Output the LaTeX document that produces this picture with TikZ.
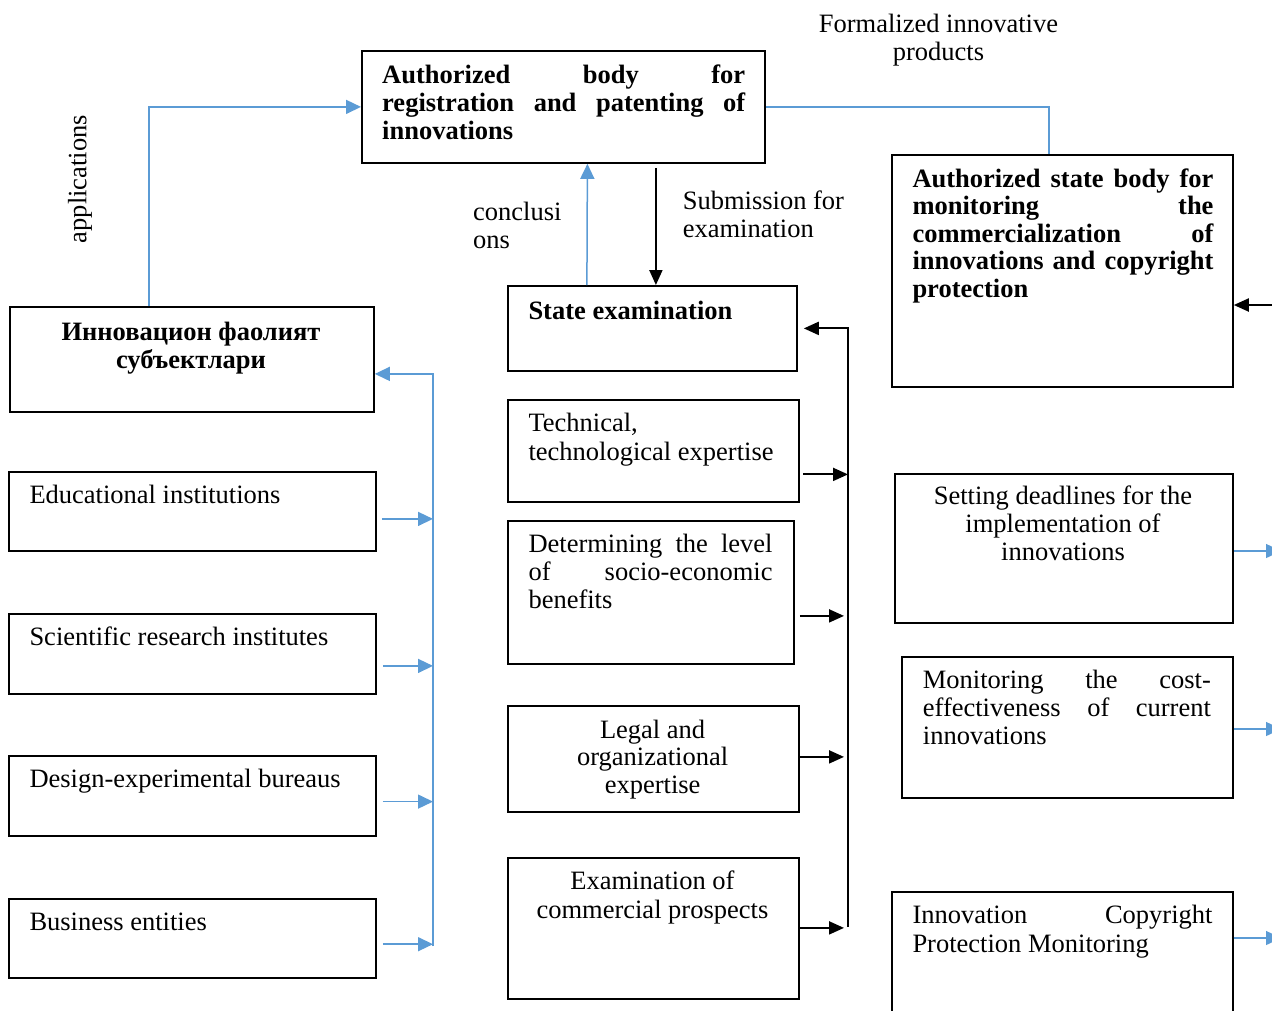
\documentclass[tikz,border=0pt]{standalone}
\usepackage{fontspec}
\setmainfont{Liberation Serif}
\usetikzlibrary{arrows.meta}
\definecolor{lblue}{RGB}{91,155,213}
\newcommand{\lnJ}[1]{\hbox to\hsize{\strut#1}}
\newcommand{\lnL}[1]{\hbox to\hsize{\strut#1\hfil}}
\newcommand{\lnC}[1]{\hbox to\hsize{\hfil\strut#1\hfil}}
\newcommand{\tbox}[2]{\vbox{\hsize=#1pt #2}}
\newcommand{\fsz}[1]{\fontsize{26.5}{#1}\selectfont}
\begin{document}
\begin{tikzpicture}[x=1pt,y=-1pt,
  box/.style={draw, line width=1.8pt, inner sep=0pt, anchor=north west},
  txt/.style={inner sep=0pt, anchor=north west},
  ctxt/.style={inner sep=0pt, anchor=north},
  blk/.style={line width=2pt, -{Triangle[length=15pt,width=13pt]}},
  blu/.style={lblue, line width=1.5pt, -{Triangle[length=15pt,width=14pt]}},
  bluline/.style={lblue, line width=1.5pt}]
\useasboundingbox (0,0) rectangle (1272,1010);
\clip (0,0) rectangle (1272,1010);

% boxes
\node[box, minimum width=403pt, minimum height=112pt] (top) at (361,50) {};
\node[box, minimum width=341pt, minimum height=232pt] (rtop) at (891,154) {};
\node[box, minimum width=364pt, minimum height=105pt] (inn) at (9,306) {};
\node[box, minimum width=289pt, minimum height=85pt] (sexam) at (507,285) {};
\node[box, minimum width=291pt, minimum height=102pt] (tech) at (507,399) {};
\node[box, minimum width=286pt, minimum height=143pt] (det) at (507,520) {};
\node[box, minimum width=291pt, minimum height=106pt] (legal) at (507,705) {};
\node[box, minimum width=291pt, minimum height=141pt] (comm) at (507,857) {};
\node[box, minimum width=367pt, minimum height=79pt] (edu) at (8,471) {};
\node[box, minimum width=367pt, minimum height=80pt] (sci) at (8,613) {};
\node[box, minimum width=367pt, minimum height=80pt] (des) at (8,755) {};
\node[box, minimum width=367pt, minimum height=79pt] (biz) at (8,898) {};
\node[box, minimum width=338pt, minimum height=149pt] (dead) at (894,473) {};
\node[box, minimum width=331pt, minimum height=141pt] (cost) at (901,656) {};
\node[box, minimum width=341pt, minimum height=140pt] (copy) at (891,891) {};

% texts
\node[txt, font=\fsz{28}\bfseries] (topT) at (382,63.4) {\tbox{363}{%
  \lnJ{Authorized\hfill body\hfill for}%
  \lnJ{registration and patenting of}%
  \lnL{innovations}}};
\node[txt, font=\fsz{27.4}\bfseries] (rtopT) at (912.3,168.1) {\tbox{301}{%
  \lnJ{Authorized state body for}%
  \lnJ{monitoring\hfill the}%
  \lnJ{commercialization\hfill of}%
  \lnJ{innovations and copyright}%
  \lnL{protection}}};
\node[ctxt, font=\fsz{26.7}\bfseries] (innT) at (191,321.3) {\tbox{340}{%
  \lnC{Инновацион фаолият}%
  \lnC{субъектлари}}};
\node[txt, font=\fsz{28.3}\bfseries] (sexamT) at (528.3,299.5) {\tbox{260}{%
  \lnL{State examination}}};
\node[txt, font=\fsz{28.3}] (techT) at (528.3,411.9) {\tbox{260}{%
  \lnL{Technical,}%
  \lnL{technological expertise}}};
\node[txt, font=\fsz{27.8}] (detT) at (528.3,533.2) {\tbox{244}{%
  \lnJ{Determining the level}%
  \lnJ{of\hfill socio-economic}%
  \lnL{benefits}}};
\node[ctxt, font=\fsz{27.5}] (legalT) at (652.6,719) {\tbox{270}{%
  \lnC{Legal and}%
  \lnC{organizational}%
  \lnC{expertise}}};
\node[ctxt, font=\fsz{29}] (commT) at (652.4,869) {\tbox{270}{%
  \lnC{Examination of}%
  \lnC{commercial prospects}}};
\node[txt, font=\fsz{28.3}] (eduT) at (29.3,483.5) {\tbox{330}{\lnL{Educational institutions}}};
\node[txt, font=\fsz{28.3}] (sciT) at (29.3,625.2) {\tbox{330}{\lnL{Scientific research institutes}}};
\node[txt, font=\fsz{28.3}] (desT) at (29.3,767.2) {\tbox{330}{\lnL{Design-experimental bureaus}}};
\node[txt, font=\fsz{28.3}] (bizT) at (29.3,910.2) {\tbox{330}{\lnL{Business entities}}};
\node[ctxt, font=\fsz{28.3}] (deadT) at (1063,484.2) {\tbox{320}{%
  \lnC{Setting deadlines for the}%
  \lnC{implementation of}%
  \lnC{innovations}}};
\node[txt, font=\fsz{28}] (costT) at (922.7,668.7) {\tbox{288}{%
  \lnJ{Monitoring\hfill the\hfill cost-}%
  \lnJ{effectiveness\hfill of\hfill current}%
  \lnL{innovations}}};
\node[txt, font=\fsz{29}] (copyT) at (912.3,903) {\tbox{300}{%
  \lnJ{Innovation\hfill Copyright}%
  \lnL{Protection Monitoring}}};

% labels
\node[ctxt, font=\fsz{28}] (formL) at (938.5,12.2) {\tbox{300}{%
  \lnC{Formalized innovative}%
  \lnC{products}}};
\node[inner sep=0pt, rotate=90, font=\fsz{28}] (appL) at (80,179) {applications};
\node[txt, font=\fsz{28}] (concL) at (473,200.4) {\tbox{100}{%
  \lnL{conclusi}%
  \lnL{ons}}};
\node[txt, font=\fsz{28}] (subL) at (682.6,189.4) {\tbox{190}{%
  \lnL{Submission for}%
  \lnL{examination}}};

% free-end coordinates
\coordinate (bb) at (433,946);
\coordinate (kb) at (848,927);
\coordinate (rin) at (1290,305);
\coordinate (o1) at (1281,551);
\coordinate (o2) at (1281,729);
\coordinate (o3) at (1281,938);

% top connectors
\draw[blu] ([xshift=-43pt]inn.north) |- (top.west);
\draw[bluline] (top.east) -| ([xshift=-13.5pt]rtop.north);
\draw[blu] ([xshift=-65.5pt]sexam.north) -- ([xshift=24pt]top.south);
\draw[blk] ([xshift=92.5pt,yshift=-4pt]top.south) -- ([xshift=3.5pt]sexam.north);

% left blue bus
\draw[blu] (bb) |- ([yshift=-14.5pt]inn.east);
\draw[blu] ([xshift=5pt,yshift=-7.5pt]edu.east) -- ([yshift=-7.5pt]edu.east -| bb);
\draw[blu] ([xshift=6pt,yshift=-12pt]sci.east) -- ([yshift=-12pt]sci.east -| bb);
\draw[blu] ([xshift=6pt,yshift=-5.7pt]des.east) -- ([yshift=-5.7pt]des.east -| bb);
\draw[blu] ([xshift=6pt,yshift=-5.8pt]biz.east) -- ([yshift=-5.8pt]biz.east -| bb);

% black bus
\draw[blk, shorten >=6pt] (kb) |- (sexam.east);
\draw[blk] ([xshift=3.5pt,yshift=-23.5pt]tech.east) -- ([yshift=-23.5pt]tech.east -| kb);
\draw[blk, shorten >=4pt] ([xshift=5pt,yshift=-23.5pt]det.east) -- ([yshift=-23.5pt]det.east -| kb);
\draw[blk, shorten >=4pt] ([yshift=2pt]legal.east) -- ([yshift=2pt]legal.east -| kb);
\draw[blk, shorten >=4pt] ([yshift=0.5pt]comm.east) -- ([yshift=0.5pt]comm.east -| kb);

% right side
\draw[blk] (rin) -- (rin -| rtop.east);
\draw[blu] (o1 -| dead.east) -- (o1);
\draw[blu] (o2 -| cost.east) -- (o2);
\draw[blu] (o3 -| copy.east) -- (o3);
\end{tikzpicture}
\end{document}
